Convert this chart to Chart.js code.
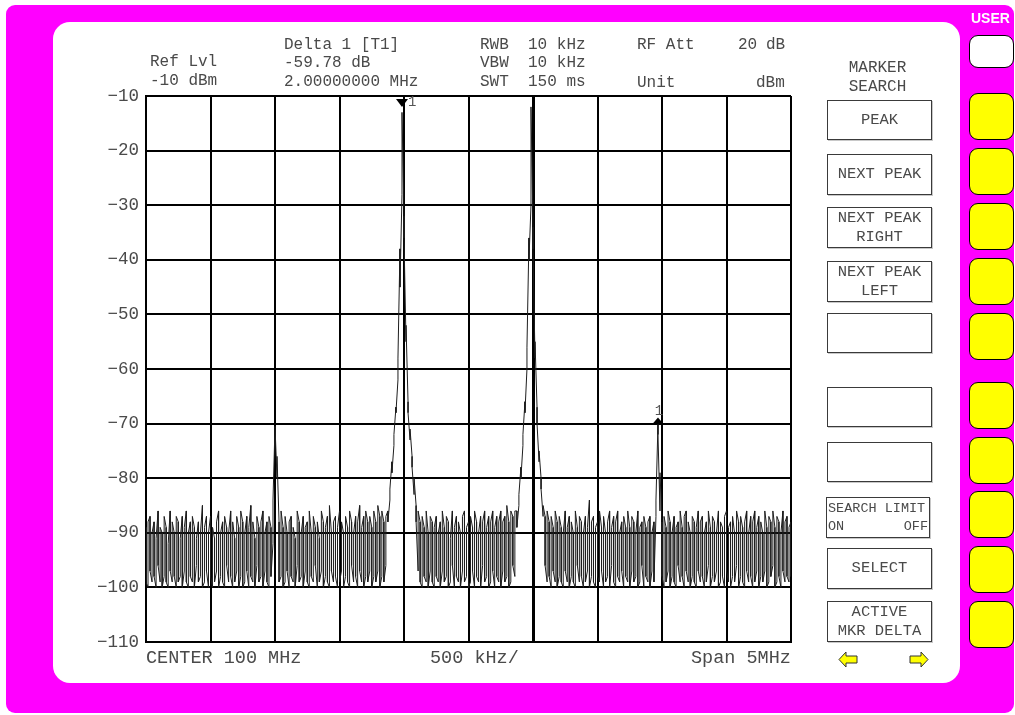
<!DOCTYPE html>
<html><head><meta charset="utf-8">
<script src="https://cdn.jsdelivr.net/npm/chart.js@4.4.1/dist/chart.umd.min.js"></script>
<style>
html,body{margin:0;padding:0;background:#fff;}
body{width:1015px;height:715px;position:relative;overflow:hidden;font-family:"Liberation Mono",monospace;color:#4a4a4a;}
#frame{position:absolute;left:6px;top:5px;width:1008px;height:708px;background:#ff00ff;border-radius:9px;}
#panel{position:absolute;left:53px;top:22px;width:907px;height:661px;background:#fff;border-radius:17px;}
#wrap{position:absolute;left:0;top:0;width:1015px;height:715px;}
.t{position:absolute;white-space:pre;font-size:16px;line-height:20px;height:20px;color:#4a4a4a;}
.b{font-size:18.5px;}
.btn{position:absolute;left:827px;width:105px;border:1px solid #3a3a3a;box-shadow:1px 1px 0 #c8c8c8;text-align:center;font-size:15.5px;line-height:19px;display:flex;flex-direction:column;justify-content:center;box-sizing:border-box;color:#4a4a4a;background:#fff;}
.soft{position:absolute;left:969px;width:45px;border:1.5px solid #000;border-radius:9px;background:#ffff00;box-sizing:border-box;}
.user{position:absolute;left:971px;top:10px;font-family:"Liberation Sans",Arial,sans-serif;font-weight:bold;font-size:14px;color:#fff;}
</style></head>
<body>
<div id="frame"></div>
<div id="panel"></div>
<div id="wrap"><canvas id="c" width="1015" height="715"></canvas></div>

<div class="t" style="left:150px;top:52px;">Ref Lvl</div>
<div class="t" style="left:150px;top:71px;">-10 dBm</div>
<div class="t" style="left:284px;top:35px;">Delta 1 [T1]</div>
<div class="t" style="left:284px;top:53px;">-59.78 dB</div>
<div class="t" style="left:284px;top:72px;">2.00000000 MHz</div>
<div class="t" style="left:480px;top:35px;">RWB  10 kHz</div>
<div class="t" style="left:480px;top:53px;">VBW  10 kHz</div>
<div class="t" style="left:480px;top:72px;">SWT  150 ms</div>
<div class="t" style="left:637px;top:35px;">RF Att</div>
<div class="t" style="left:738px;top:35px;">20</div>
<div class="t" style="left:766px;top:35px;">dB</div>
<div class="t" style="left:637px;top:73px;">Unit</div>
<div class="t" style="left:756px;top:73px;">dBm</div>

<div class="t b" style="left:146px;top:649px;">CENTER 100 MHz</div>
<div class="t b" style="left:430px;top:649px;">500 kHz/</div>
<div class="t b" style="left:691px;top:649px;">Span 5MHz</div>

<div class="t" style="left:820px;top:58px;width:115px;text-align:center;">MARKER</div>
<div class="t" style="left:820px;top:77px;width:115px;text-align:center;">SEARCH</div>

<div class="btn" style="top:100px;height:40px;">PEAK</div>
<div class="btn" style="top:154px;height:41px;">NEXT PEAK</div>
<div class="btn" style="top:207px;height:41px;"><span>NEXT PEAK</span><span>RIGHT</span></div>
<div class="btn" style="top:261px;height:41px;"><span>NEXT PEAK</span><span>LEFT</span></div>
<div class="btn" style="top:313px;height:40px;"></div>
<div class="btn" style="top:387px;height:40px;"></div>
<div class="btn" style="top:442px;height:40px;"></div>
<div class="btn" style="top:497px;height:41px;left:826px;width:104px;font-size:13.5px;line-height:18px;text-align:left;"><span style="padding-left:1px;">SEARCH LIMIT</span><span style="display:flex;justify-content:space-between;padding:0 1px;"><span>ON</span><span>OFF</span></span></div>
<div class="btn" style="top:548px;height:41px;">SELECT</div>
<div class="btn" style="top:601px;height:41px;"><span>ACTIVE</span><span>MKR DELTA</span></div>

<svg style="position:absolute;left:838px;top:650px;" width="20" height="19"><polygon points="1,9.5 8,2 8,6 19,6 19,13 8,13 8,17" fill="#ffff00" stroke="#333" stroke-width="1"/></svg>
<svg style="position:absolute;left:909px;top:650px;" width="20" height="19"><polygon points="19,9.5 12,2 12,6 1,6 1,13 12,13 12,17" fill="#ffff00" stroke="#333" stroke-width="1"/></svg>

<div class="user">USER</div>
<div class="soft" style="top:35px;height:33px;background:#fff;"></div>
<div class="soft" style="top:93px;height:47px;"></div>
<div class="soft" style="top:148px;height:47px;"></div>
<div class="soft" style="top:203px;height:47px;"></div>
<div class="soft" style="top:258px;height:47px;"></div>
<div class="soft" style="top:313px;height:47px;"></div>
<div class="soft" style="top:382px;height:47px;"></div>
<div class="soft" style="top:437px;height:47px;"></div>
<div class="soft" style="top:491px;height:47px;"></div>
<div class="soft" style="top:546px;height:47px;"></div>
<div class="soft" style="top:601px;height:47px;"></div>

<script>
// Sweep settings (MHz) and level range (dBm)
const freqStartMHz = 97.5;
const freqStopMHz = 102.5;
const freqStepMHz = 0.5;
const levelMinDb = -110;
const levelMaxDb = -10;
const levelStepDb = 10;
const freqLineMHz = 100.5;

// Auto-peak detector: max level per sweep point (dBm)
const traceMax = [
 -89,-88,-87,-90,-88,-91,-86,-89,-90,-87,-89,-92,-86,-88,-90,-87,
 -88,-91,-87,-89,-86,-90,-88,-87,-89,-91,-88,-90,-85,-89,-87,-90,
 -87,-89,-91,-88,-86,-90,-88,-87,-89,-90,-86,-88,-91,-87,-89,-86,
 -88,-90,-87,-89,-85,-88,-91,-87,-89,-88,-86,-90,-88,-87,-89,-84,
 -70.5,-76,-88,-86,-89,-87,-90,-88,-87,-89,-91,-86,-88,-90,-87,-89,
 -88,-86,-90,-87,-89,-88,-91,-86,-88,-89,-87,-85,-90,-88,-87,-89,
 -86,-88,-90,-87,-89,-86,-88,-90,-87,-88,-85,-89,-87,-86,-88,-87,
 -89,-86,-88,-85,-87,-86,-88,-87,-86,-82,-77,-72,-67,-58,-38,-13,
 -32,-52,-66,-71,-76,-80,-85,-86,-88,-87,-89,-86,-90,-87,-88,-89,
 -87,-90,-88,-86,-89,-87,-88,-91,-86,-89,-87,-88,-90,-87,-86,-89,
 -88,-87,-89,-86,-88,-90,-87,-88,-86,-89,-87,-88,-86,-89,-87,-88,
 -86,-88,-87,-85,-88,-86,-87,-86,-86,-83,-78,-72,-66,-56,-36,-12,
 -34,-55,-67,-75,-80,-85,-87,-86,-88,-87,-89,-86,-88,-87,-89,-90,
 -86,-89,-87,-88,-90,-86,-89,-87,-88,-90,-87,-89,-84,-88,-87,-89,
 -88,-86,-89,-87,-90,-88,-86,-89,-87,-88,-86,-90,-88,-87,-89,-86,
 -89,-87,-88,-90,-86,-89,-88,-87,-89,-88,-87,-90,-88,-84,-70,-79,
 -88,-87,-89,-86,-88,-90,-87,-89,-88,-86,-89,-87,-86,-88,-90,-87,
 -88,-89,-86,-88,-87,-90,-88,-86,-89,-87,-88,-90,-86,-88,-89,-87,
 -86,-89,-88,-87,-90,-86,-88,-87,-89,-88,-86,-90,-87,-88,-86,-89,
 -87,-88,-90,-86,-89,-87,-88,-86,-89,-87,-88,-90,-86,-88,-87,-89,
 -88
];
// Auto-peak detector: min level per sweep point (dBm)
const traceMin = [
 -99,-100,-97,-99,-98,-100,-96,-99,-100,-98,-99,-100,-97,-99,-98,-100,
 -99,-98,-100,-97,-99,-100,-98,-99,-100,-96,-99,-98,-100,-99,-97,-100,
 -98,-100,-99,-97,-100,-98,-99,-100,-96,-99,-98,-100,-99,-97,-100,-98,
 -100,-99,-97,-100,-98,-99,-100,-96,-99,-98,-100,-97,-99,-100,-98,-92,
 -70.5,-80,-99,-98,-100,-99,-97,-100,-98,-99,-100,-96,-99,-98,-100,-97,
 -99,-100,-98,-99,-96,-100,-99,-97,-100,-98,-99,-100,-97,-99,-98,-100,
 -99,-97,-100,-98,-99,-100,-96,-99,-98,-100,-97,-99,-100,-98,-99,-97,
 -100,-98,-99,-97,-100,-98,-99,-96,-88,-84,-79,-74,-68,-62,-45,-28,
 -36,-55,-68,-73,-78,-83,-88,-97,-99,-100,-98,-99,-100,-97,-99,-100,
 -98,-99,-100,-97,-99,-98,-100,-99,-96,-100,-98,-99,-100,-97,-99,-98,
 -100,-99,-97,-100,-98,-99,-100,-96,-99,-98,-100,-99,-97,-100,-98,-99,
 -100,-97,-99,-98,-100,-99,-96,-98,-89,-85,-80,-74,-68,-60,-40,-30,
 -38,-58,-70,-77,-82,-87,-96,-99,-98,-100,-97,-99,-100,-98,-99,-100,
 -97,-99,-100,-98,-99,-100,-96,-99,-98,-100,-99,-97,-100,-98,-99,-100,
 -98,-99,-97,-100,-99,-98,-100,-96,-99,-100,-98,-99,-97,-100,-98,-99,
 -100,-97,-99,-98,-100,-99,-96,-100,-98,-99,-100,-97,-99,-87,-72,-86,
 -98,-100,-99,-97,-100,-98,-99,-100,-96,-99,-98,-100,-97,-99,-100,-98,
 -99,-100,-97,-99,-98,-100,-99,-96,-100,-98,-99,-97,-100,-99,-98,-100,
 -97,-99,-100,-98,-99,-96,-100,-98,-99,-100,-97,-99,-98,-100,-99,-97,
 -100,-98,-99,-97,-100,-99,-98,-96,-100,-99,-98,-100,-97,-99,-98,-99,
 -98
];

// Markers: sweep point index, marker level (dBm), direction, label
const markerIndex = [127, 254];
const markerLevels = [-12, -70];
const markerDirs = ['down', 'up'];
const markerLabels = ['1', '1'];

const sweepStep = (freqStopMHz - freqStartMHz) / (traceMax.length - 1);
// each sweep point is drawn as a vertical min..max stroke (serpentine order)
const traceData = [];
traceMax.forEach((hi, i) => {
  const f = freqStartMHz + i * sweepStep;
  const lo = traceMin[i];
  if (i % 2 === 0) { traceData.push({x: f, y: hi}, {x: f, y: lo}); }
  else { traceData.push({x: f, y: lo}, {x: f, y: hi}); }
});

const markerPlugin = {
  id: 'markers',
  afterDatasetsDraw(chart) {
    const ctx = chart.ctx, xs = chart.scales.x, ys = chart.scales.y;
    ctx.save();
    markerIndex.forEach((idx, k) => {
      const px = xs.getPixelForValue(freqStartMHz + idx * sweepStep);
      const py = ys.getPixelForValue(markerLevels[k]);
      ctx.fillStyle = '#000';
      ctx.beginPath();
      if (markerDirs[k] === 'down') {
        ctx.moveTo(px - 6, py - 8); ctx.lineTo(px + 6, py - 8); ctx.lineTo(px, py);
      } else {
        ctx.moveTo(px - 6, py + 1); ctx.lineTo(px + 6, py + 1); ctx.lineTo(px, py - 6);
      }
      ctx.closePath(); ctx.fill();
      ctx.fillStyle = '#555';
      ctx.font = '14px "Liberation Mono"';
      ctx.textBaseline = 'middle';
      if (markerDirs[k] === 'down') {
        ctx.textAlign = 'left';
        ctx.fillText(markerLabels[k], px + 6, py - 5);
      } else {
        ctx.textAlign = 'center';
        ctx.fillText(markerLabels[k], px + 1, py - 12);
      }
    });
    ctx.restore();
  }
};

new Chart(document.getElementById('c'), {
  type: 'line',
  data: {
    datasets: [{
      data: traceData,
      borderColor: '#1e1e1e',
      borderWidth: 1,
      pointRadius: 0,
      tension: 0,
      fill: false
    }]
  },
  options: {
    responsive: false,
    animation: false,
    devicePixelRatio: 1,
    layout: {padding: {left: 86, top: 96, right: 224, bottom: 73}},
    plugins: {legend: {display: false}, tooltip: {enabled: false}},
    scales: {
      x: {
        type: 'linear',
        min: freqStartMHz,
        max: freqStopMHz,
        ticks: {display: false, stepSize: freqStepMHz},
        grid: {
          color: '#000',
          drawTicks: false,
          lineWidth: c => (c.tick && Math.abs(c.tick.value - freqLineMHz) < 1e-6) ? 3 : 2
        },
        border: {display: true, color: '#000', width: 2},
        afterFit: s => { s.height = 0; }
      },
      y: {
        min: levelMinDb,
        max: levelMaxDb,
        ticks: {
          stepSize: levelStepDb,
          color: '#4a4a4a',
          padding: 7,
          font: {family: 'Liberation Mono', size: 17.5},
          callback: v => (v < 0 ? '\u2212' : '') + Math.abs(v)
        },
        grid: {color: '#000', drawTicks: false, lineWidth: 2},
        border: {display: true, color: '#000', width: 2},
        afterFit: s => { s.width = 60; }
      }
    }
  },
  plugins: [markerPlugin]
});
</script>
</body></html>
